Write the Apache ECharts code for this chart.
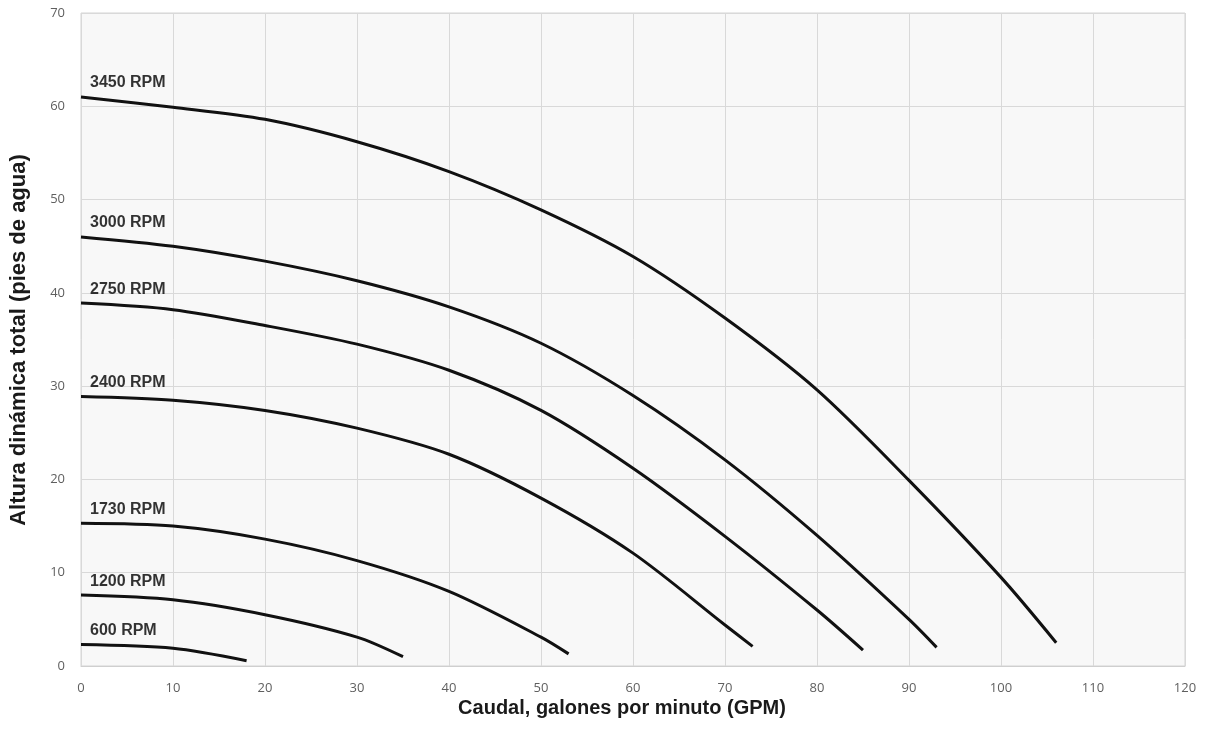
<!DOCTYPE html>
<html>
<head>
<meta charset="utf-8">
<script src="https://cdn.jsdelivr.net/npm/echarts@6/dist/echarts.min.js"></script>
<style>
html,body{margin:0;padding:0;background:#ffffff;}
#chart{width:1208px;height:752px;}
</style>
</head>
<body>
<div id="chart"></div>
<script>
// Curve data: [caudal GPM, altura pies]
const rpm3450 = [[0,61.0],[10,59.9],[20,58.6],[30,56.2],[40,53.0],[50,48.9],[60,43.9],[70,37.3],[80,29.6],[90,19.9],[100,9.5],[106,2.5]];
const rpm3000 = [[0,46.0],[10,45.0],[20,43.4],[30,41.3],[40,38.5],[50,34.6],[60,29.0],[70,22.1],[80,14.0],[90,5.0],[93,2.0]];
const rpm2750 = [[0,38.9],[10,38.2],[20,36.5],[30,34.5],[40,31.7],[50,27.4],[60,21.2],[70,13.9],[80,6.0],[85,1.7]];
const rpm2400 = [[0,28.9],[10,28.5],[20,27.4],[30,25.5],[40,22.7],[50,18.0],[60,12.1],[70,4.4],[73,2.1]];
const rpm1730 = [[0,15.3],[10,15.0],[20,13.6],[30,11.3],[40,8.0],[50,3.1],[53,1.3]];
const rpm1200 = [[0,7.6],[10,7.1],[20,5.5],[30,3.1],[35,1.0]];
const rpm600  = [[0,2.3],[10,1.9],[18,0.57]];
const seriesNames = ['3450 RPM','3000 RPM','2750 RPM','2400 RPM','1730 RPM','1200 RPM','600 RPM'];
const seriesData = [rpm3450,rpm3000,rpm2750,rpm2400,rpm1730,rpm1200,rpm600];
const xTitle = 'Caudal, galones por minuto (GPM)';
const yTitle = 'Altura dinámica total (pies de agua)';

const chart = echarts.init(document.getElementById('chart'), null, {renderer:'canvas'});
const lineSeries = seriesData.map((d,i)=>({
  name: seriesNames[i],
  type: 'line',
  data: d,
  smooth: 0.3,
  symbol: 'none',
  lineStyle: {color:'#111111', width:3},
  z: 3
}));
const labelSeries = {
  type: 'scatter',
  symbolSize: 0,
  silent: true,
  data: seriesData.map((d,i)=>({value:d[0], name:seriesNames[i]})),
  label: {
    show: true,
    position: 'right',
    distance: 0,
    offset: [9,-14],
    formatter: p => p.name,
    fontFamily: '"Liberation Sans", Arial, sans-serif',
    fontWeight: 'bold',
    fontSize: 16,
    color: '#000000'
  },
  z: 4
};

chart.setOption({
  backgroundColor: '#ffffff',
  animation: false,
  grid: {left:81, right:23, top:13, bottom:86, show:true, backgroundColor:'#f8f8f8', borderColor:'#d4d4d4', borderWidth:1},
  xAxis: {
    type:'value', min:0, max:120, interval:10,
    axisLine:{show:true, lineStyle:{color:'#cfcfcf'}},
    axisTick:{show:false},
    splitLine:{show:true, lineStyle:{color:'#d9d9d9', width:1}},
    axisLabel:{color:'#5f5f5f', fontSize:13, margin:16, fontFamily:'"Open Sans", "Liberation Sans", sans-serif'}
  },
  yAxis: {
    type:'value', min:0, max:70, interval:10,
    axisLine:{show:false},
    axisTick:{show:false},
    splitLine:{show:true, lineStyle:{color:'#d9d9d9', width:1}},
    axisLabel:{color:'#5f5f5f', fontSize:13, margin:16, fontFamily:'"Open Sans", "Liberation Sans", sans-serif'}
  },
  graphic: [
    {type:'text', x:622, y:708, style:{text:xTitle, fill:'#1a1a1a', font:'bold 20px "Liberation Sans", Arial, sans-serif', textAlign:'center', textVerticalAlign:'middle'}},
    {type:'text', x:19, y:340, rotation:Math.PI/2, style:{text:yTitle, fill:'#1a1a1a', font:'bold 22px "Liberation Sans", Arial, sans-serif', textAlign:'center', textVerticalAlign:'middle'}}
  ],
  series: [...lineSeries, labelSeries]
});
</script>
</body>
</html>
